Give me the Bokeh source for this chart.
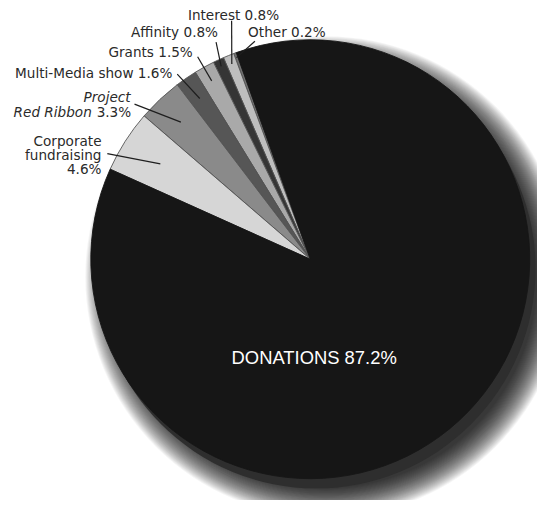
import math
from bokeh.plotting import figure
from bokeh.models import ColumnDataSource, Range1d
from bokeh.core.properties import value
from bokeh.embed import file_html
from bokeh.resources import INLINE

# ---- data ----
categories = ["DONATIONS", "Corporate fundraising", "Project Red Ribbon",
              "Multi-Media show", "Grants", "Affinity", "Interest", "Other"]
percents = [87.2, 4.6, 3.3, 1.6, 1.5, 0.8, 0.8, 0.2]

# ---- style ----
slice_colors = {"DONATIONS": "#161616", "Corporate fundraising": "#d6d6d6",
                "Project Red Ribbon": "#8a8a8a", "Multi-Media show": "#565656",
                "Grants": "#a9a9a9", "Affinity": "#353535", "Interest": "#bebebe",
                "Other": "#707070"}

W, H = 537, 500          # figure size in px
VW, VH = 553, 516        # layout space (reference pixel grid)
TEXT_DY = -5             # baseline correction for text rendering
def Y(img_y):
    return VH - img_y

CX, CY, R = 319, Y(267), 226
START = 109.7  # degrees, slices run anticlockwise from here (Other first)

p = figure(width=W, height=H, output_backend="svg", toolbar_location=None,
           x_range=Range1d(0, VW), y_range=Range1d(0, VH),
           x_axis_type=None, y_axis_type=None, min_border=0,
           outline_line_color=None, background_fill_color="white")
p.grid.visible = False

# soft shadow
for i in range(34):
    p.circle(x=[CX + 16], y=[CY - 18], radius=R - 8 + i * 0.9,
             fill_color="black", fill_alpha=0.04, line_color=None)
# side / thickness
p.circle(x=[CX + 6], y=[CY - 10], radius=R, fill_color="#2e2e2e", line_color=None)

# wedges
order = list(reversed(range(len(categories))))
starts, ends, cols, lcols, mids = [], [], [], [], {}
a = START
for i in order:
    span = percents[i] / 100.0 * 360.0
    starts.append(a)
    ends.append(a + span)
    cols.append(slice_colors[categories[i]])
    lcols.append("#161616" if categories[i] == "DONATIONS" else "#555555")
    mids[categories[i]] = a + span / 2
    a += span
src = ColumnDataSource(dict(s=starts, e=ends, c=cols, lc=lcols))
p.wedge(x=CX, y=CY, radius=R, start_angle="s", end_angle="e",
        start_angle_units="deg", end_angle_units="deg",
        direction="anticlock", fill_color="c", line_color="lc", line_width=0.9,
        source=src)

# leader lines: outer end (layout coords) and inner radius fraction
leaders = {"Other": ((262, 42), 0.98), "Interest": ((238, 21), 0.96),
           "Affinity": ((222, 43), 0.97), "Grants": ((203, 58), 0.93),
           "Multi-Media show": ((182, 76), 0.89), "Project Red Ribbon": ((138, 107), 0.86),
           "Corporate fundraising": ((110, 158), 0.81)}
xs, ys = [], []
for name, ((ox, oy), f) in leaders.items():
    ang = math.radians(mids[name])
    xs.append([ox, CX + f * R * math.cos(ang)])
    ys.append([Y(oy), CY + f * R * math.sin(ang)])
p.multi_line(xs=xs, ys=ys, line_color="#1e1e1e", line_width=1.2)

pct = {c: f"{v:.1f}%" for c, v in zip(categories, percents)}
FONT = value("DejaVu Sans")
LC = "#2a2a2a"

def label(txt, x, y, align, style="normal"):
    p.text(x=[x], y=[Y(y + TEXT_DY)], text=[txt], text_font=FONT,
           text_font_size="13.6px", text_color=LC, text_align=align,
           text_baseline="alphabetic", text_font_style=style)

label("Other " + pct["Other"], 255, 37, "left")
label("Interest " + pct["Interest"], 193, 20, "left")
label("Affinity " + pct["Affinity"], 224, 38, "right")
label("Grants " + pct["Grants"], 198, 58, "right")
label("Multi-Media show " + pct["Multi-Media show"], 177, 80, "right")
label("Project", 134, 105, "right", "italic")
label("Red Ribbon", 94, 120, "right", "italic")
label(pct["Project Red Ribbon"], 99, 120, "left")
label("Corporate", 104, 150, "right")
label("fundraising", 104, 164.5, "right")
label(pct["Corporate fundraising"], 104, 179, "right")

p.text(x=[323], y=[Y(373 + TEXT_DY)], text=["DONATIONS " + pct["DONATIONS"]],
       text_font=value("Liberation Sans"), text_font_size="18.4px",
       text_color="white", text_align="center", text_baseline="alphabetic")

open("out.html", "w").write(file_html(p, INLINE))
